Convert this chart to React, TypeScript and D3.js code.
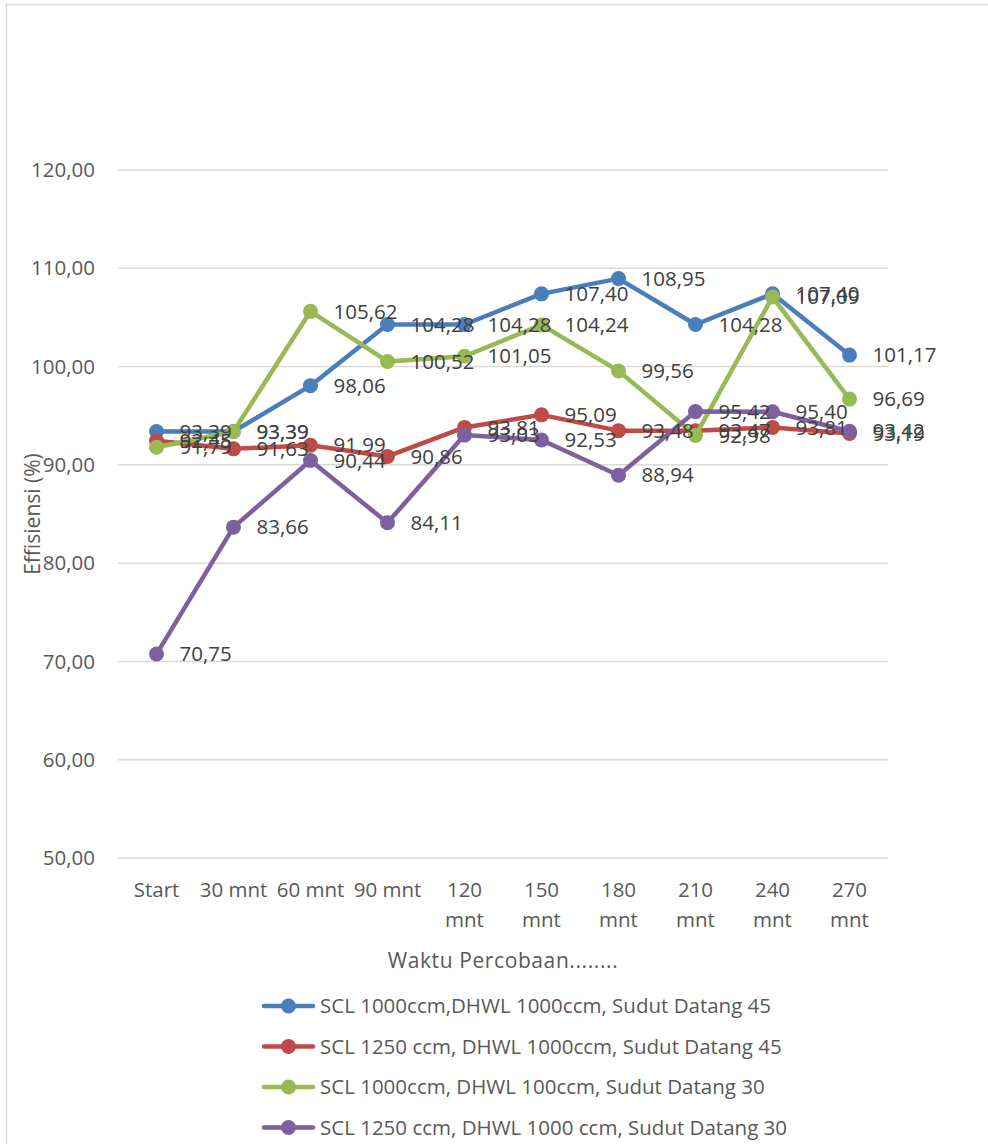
import React from 'react';
import * as d3 from 'd3';

const categories = ['Start', '30 mnt', '60 mnt', '90 mnt', '120 mnt', '150 mnt', '180 mnt', '210 mnt', '240 mnt', '270 mnt'];
const yTicks = [50, 60, 70, 80, 90, 100, 110, 120];

const seriesNames = [
  'SCL 1000ccm,DHWL 1000ccm, Sudut Datang 45',
  'SCL 1250 ccm, DHWL 1000ccm, Sudut Datang 45',
  'SCL 1000ccm, DHWL 100ccm, Sudut Datang 30',
  'SCL 1250 ccm, DHWL 1000 ccm, Sudut Datang 30',
];
const seriesColors = ['#4a7ebb', '#be4b48', '#98b954', '#7d60a0'];

const blueValues = [93.39, 93.39, 98.06, 104.28, 104.28, 107.4, 108.95, 104.28, 107.4, 101.17];
const redValues = [92.45, 91.63, 91.99, 90.86, 93.81, 95.09, 93.48, 93.47, 93.81, 93.19];
const greenValues = [91.79, 93.39, 105.62, 100.52, 101.05, 104.24, 99.56, 92.98, 107.09, 96.69];
const purpleValues = [70.75, 83.66, 90.44, 84.11, 93.03, 92.53, 88.94, 95.42, 95.4, 93.42];

const allSeries = [blueValues, redValues, greenValues, purpleValues];

const FONT = '"Open Sans", "Noto Sans", sans-serif';
const FS = 20.5;
const fmt = (v: number) => v.toFixed(2).replace('.', ',');

export default function App() {
  const width = 988;
  const height = 1144;
  const left = 118, right = 888, top = 170, bottom = 858;

  const x = d3.scaleBand<string>().domain(categories).range([left, right]);
  const y = d3.scaleLinear().domain([50, 120]).range([bottom, top]);
  const cx = (c: string) => (x(c) as number) + x.bandwidth() / 2;

  const line = d3.line<number>()
    .x((_, i) => cx(categories[i]))
    .y(d => y(d));

  return (
    <svg width={width} height={height} style={{ position: 'absolute', left: 0, top: 0 }}>
      <rect x={0} y={0} width={width} height={height} fill="#fff" />
      <rect x={6.5} y={4.5} width={width + 10} height={height + 10} fill="none" stroke="#d9d9d9" strokeWidth={1.5} />

      {yTicks.map(t => (
        <g key={t}>
          <line x1={left} x2={right} y1={y(t)} y2={y(t)} stroke="#d9d9d9" strokeWidth={1.5} />
          <text x={95} y={y(t)} dy="0.35em" textAnchor="end" fontFamily={FONT} fontSize={FS} fill="#595959">{fmt(t)}</text>
        </g>
      ))}

      {categories.map(c => {
        const parts = c.startsWith('1') || c.startsWith('2') ? c.split(' ') : [c];
        return (
          <text key={c} x={cx(c)} y={897} textAnchor="middle" fontFamily={FONT} fontSize={FS} fill="#595959">
            {parts.map((p, i) => (
              <tspan key={i} x={cx(c)} dy={i === 0 ? 0 : 30}>{p}</tspan>
            ))}
          </text>
        );
      })}

      <text x={503} y={968} textAnchor="middle" fontFamily={FONT} fontSize={21} letterSpacing={0.6} fill="#595959">Waktu Percobaan........</text>
      <text transform={`translate(40, ${(top + bottom) / 2}) rotate(-90)`} textAnchor="middle" fontFamily={FONT} fontSize={21} fill="#595959">Effisiensi (%)</text>

      {allSeries.map((vals, si) => (
        <g key={si}>
          <path d={line(vals) as string} fill="none" stroke={seriesColors[si]} strokeWidth={4.5} strokeLinejoin="round" strokeLinecap="round" />
          {vals.map((v, i) => (
            <circle key={i} cx={cx(categories[i])} cy={y(v)} r={7.5} fill={seriesColors[si]} />
          ))}
        </g>
      ))}

      {allSeries.map((vals, si) => (
        <g key={'l' + si}>
          {vals.map((v, i) => (
            <text key={i} x={cx(categories[i]) + 23} y={y(v)} dy="0.35em" fontFamily={FONT} fontSize={FS} fill="#404040">{fmt(v)}</text>
          ))}
        </g>
      ))}

      {seriesNames.map((n, i) => {
        const ly = 1006 + i * 40.5;
        return (
          <g key={n}>
            <line x1={264} x2={313} y1={ly} y2={ly} stroke={seriesColors[i]} strokeWidth={4.5} strokeLinecap="round" />
            <circle cx={288.5} cy={ly} r={7.5} fill={seriesColors[i]} />
            <text x={320} y={ly} dy="0.35em" fontFamily={FONT} fontSize={FS} fill="#595959">{n}</text>
          </g>
        );
      })}
    </svg>
  );
}
